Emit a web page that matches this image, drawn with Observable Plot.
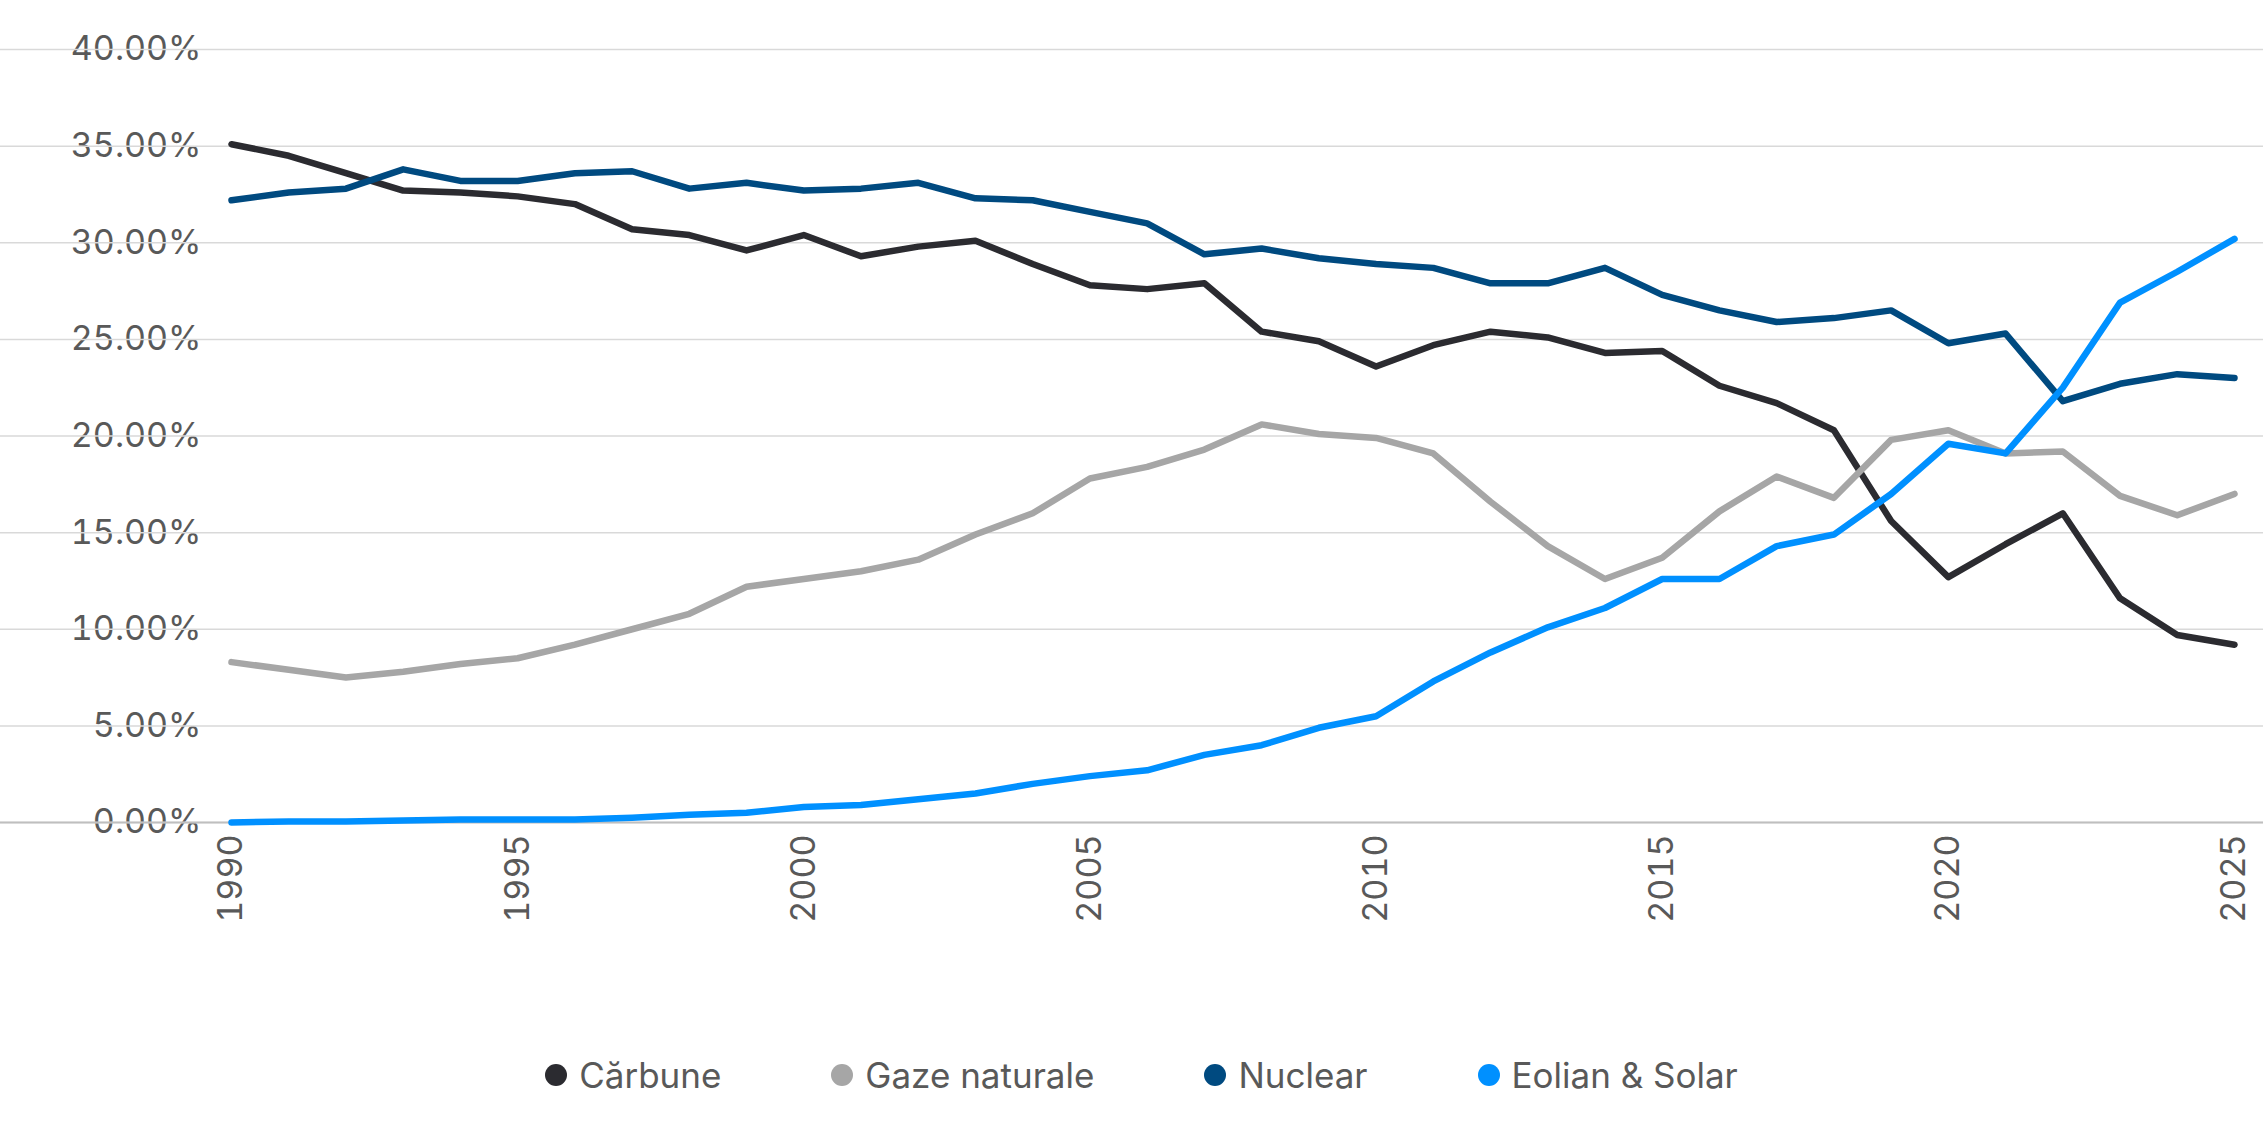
<!DOCTYPE html>
<html><head><meta charset="utf-8">
<script src="https://cdn.jsdelivr.net/npm/d3@7"></script>
<script src="https://cdn.jsdelivr.net/npm/@observablehq/plot@0.6"></script>
<style>
body{margin:0;background:#fff;font-family:Inter,sans-serif;}
#legend{display:flex;justify-content:center;gap:110px;font-size:35px;color:#595959;margin-top:44px;padding-left:20px}
#legend span{display:flex;align-items:center;gap:12px}
#legend i{width:22px;height:22px;border-radius:50%;display:inline-block}
</style></head><body>
<div id="chart"></div>
<div id="legend"></div>
<script>
const years = d3.range(1990, 2026);
const series = ["Cărbune","Gaze naturale","Nuclear","Eolian & Solar"];
const colors = ["#2b2b30","#a6a6a6","#004a80","#0090ff"];
const carbune = [35.1,34.5,33.6,32.7,32.6,32.4,32.0,30.7,30.4,29.6,30.4,29.3,29.8,30.1,28.9,27.8,27.6,27.9,25.4,24.9,23.6,24.7,25.4,25.1,24.3,24.4,22.6,21.7,20.3,15.6,12.7,14.4,16.0,11.6,9.7,9.2];
const gaze = [8.3,7.9,7.5,7.8,8.2,8.5,9.2,10.0,10.8,12.2,12.6,13.0,13.6,14.9,16.0,17.8,18.4,19.3,20.6,20.1,19.9,19.1,16.6,14.3,12.6,13.7,16.1,17.9,16.8,19.8,20.3,19.1,19.2,16.9,15.9,17.0];
const nuclear = [32.2,32.6,32.8,33.8,33.2,33.2,33.6,33.7,32.8,33.1,32.7,32.8,33.1,32.3,32.2,31.6,31.0,29.4,29.7,29.2,28.9,28.7,27.9,27.9,28.7,27.3,26.5,25.9,26.1,26.5,24.8,25.3,21.8,22.7,23.2,23.0];
const eolian = [0,0.05,0.05,0.1,0.15,0.15,0.15,0.25,0.4,0.5,0.8,0.9,1.2,1.5,2.0,2.4,2.7,3.5,4.0,4.9,5.5,7.3,8.8,10.1,11.1,12.6,12.6,14.3,14.9,17.0,19.6,19.1,22.5,26.9,28.5,30.2];
const yTicks = [0,5,10,15,20,25,30,35,40];
const xTicks = [1990,1995,2000,2005,2010,2015,2020,2025];
const all = [carbune,gaze,nuclear,eolian];
const data = all.flatMap((arr,i)=>arr.map((v,j)=>({year:years[j],value:v,series:series[i]})));
const chart = Plot.plot({
  width:2263, height:1010,
  marginLeft:231, marginRight:29, marginTop:49, marginBottom:188,
  style:{fontFamily:"Inter, sans-serif", fontSize:"34px", color:"#595959", background:"#fff"},
  x:{domain:[1990,2025], ticks:xTicks, tickFormat:d=>String(d), tickRotate:-90, tickSize:0, tickPadding:12, label:null},
  y:{domain:[0,40], ticks:yTicks, tickFormat:d=>d.toFixed(2)+"%", tickSize:0, tickPadding:30, label:null},
  color:{domain:series, range:colors},
  marks:[
    Plot.gridY(yTicks,{stroke:"#d9d9d9", strokeOpacity:1, strokeWidth:1.5, x1:140*1.443, x2:2263}),
    Plot.ruleY([0],{stroke:"#bfbfbf", strokeWidth:2, x1:140*1.443, x2:2263}),
    Plot.line(data,{x:"year",y:"value",stroke:"series",strokeWidth:6.5,strokeLinejoin:"round",strokeLinecap:"round"})
  ]
});
document.getElementById("chart").append(chart);
const lg=document.getElementById("legend");
series.forEach((s,i)=>{const e=document.createElement("span");e.innerHTML=`<i style="background:${colors[i]}"></i>${s}`;lg.append(e);});
</script></body></html>
